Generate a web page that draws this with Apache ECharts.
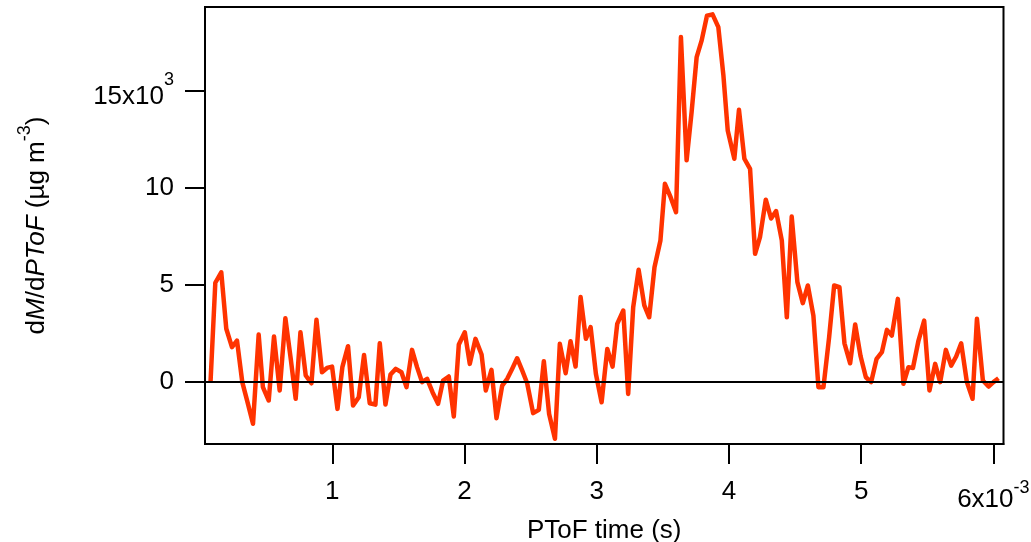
<!DOCTYPE html>
<html>
<head>
<meta charset="utf-8">
<script src="https://cdn.jsdelivr.net/npm/echarts@6/dist/echarts.min.js"></script>
<style>
html,body{margin:0;padding:0;background:#fff;}
#chart{width:1031px;height:542px;}
</style>
</head>
<body>
<div id="chart"></div>
<script>
// PToF time in units of 1e-3 s
const ptofTime = [
0.079,0.115,0.160,0.198,0.241,0.279,0.319,0.360,0.400,0.443,
0.475,0.519,0.559,0.602,0.645,0.685,0.723,0.759,0.799,0.842,
0.880,0.922,0.960,0.998,1.039,1.076,1.119,1.157,1.200,1.240,
1.283,1.326,1.359,1.402,1.440,1.480,1.523,1.561,1.603,1.641,
1.679,1.717,1.758,1.800,1.838,1.881,1.919,1.957,2.002,2.040,
2.083,2.129,2.161,2.204,2.242,2.285,2.323,2.360,2.398,2.436,
2.474,2.519,2.562,2.600,2.640,2.684,2.721,2.765,2.802,2.840,
2.878,2.918,2.954,2.994,3.037,3.080,3.120,3.155,3.201,3.238,
3.276,3.317,3.360,3.397,3.437,3.482,3.516,3.559,3.600,3.637,
3.680,3.718,3.756,3.794,3.834,3.876,3.920,3.958,3.991,4.041,
4.076,4.117,4.160,4.198,4.235,4.279,4.319,4.357,4.400,4.438,
4.475,4.518,4.559,4.597,4.639,4.677,4.715,4.758,4.796,4.836,
4.874,4.917,4.955,4.996,5.036,5.076,5.117,5.157,5.195,5.232,
5.278,5.320,5.358,5.392,5.434,5.477,5.517,5.560,5.598,5.641,
5.681,5.719,5.757,5.800,5.843,5.876,5.921,5.964,6.001,6.039
];
// dM/dPToF in ug m-3
const dMdPToF = [
0,5090,5630,2720,1770,2110,-30,-1100,-2180,2420,
-290,-980,2320,-460,3260,1200,-890,2540,310,-90,
3180,480,700,770,-1410,740,1820,-1240,-810,1370,
-1120,-1190,1970,-1190,360,650,480,-290,1630,740,
-30,140,-550,-1150,50,260,-1800,1910,2540,910,
2200,1390,-460,600,-1890,-210,140,650,1200,570,
-90,-1630,-1460,1050,-1670,-2950,1940,430,2080,770,
4350,2200,2800,390,-1070,1680,770,2970,3660,-640,
3830,5760,3920,3310,5890,7270,10190,9500,8730,17750,
11400,13900,16720,17580,18850,18920,18260,15800,12940,11480,
14000,11480,10960,6580,7440,9370,8400,8780,7270,3310,
8500,5120,4040,4950,3400,-290,-290,2280,4950,4860,
1970,940,2940,1300,220,-30,1170,1510,2660,2370,
4260,-120,740,700,2110,3140,-460,910,-30,1630,
820,1290,1970,-30,-890,3230,50,-260,-30,170
];
const xTicks = [1, 2, 3, 4, 5, 6];
const yTicks = [0, 5000, 10000, 15000];

const FONT = 'Liberation Sans, Arial, sans-serif';
const FS = 26;
const chart = echarts.init(document.getElementById('chart'));
const seriesData = ptofTime.map((t, i) => [t, dMdPToF[i]]);

chart.setOption({
  animation: false,
  backgroundColor: '#fff',
  grid: {left: 205, right: 27.5, top: 7, bottom: 98, show: true, borderColor: '#000', borderWidth: 2,
         containLabel: false, outerBoundsMode: 'none'},
  xAxis: {
    type: 'value', min: 0.037, max: 6.077,
    name: 'PToF time (s)', nameLocation: 'middle', nameGap: 64,
    nameTextStyle: {fontFamily: FONT, fontSize: FS, color: '#000'},
    axisLine: {show: true, onZero: false, lineStyle: {color: '#000', width: 2}},
    axisTick: {show: true, inside: false, length: 20, customValues: xTicks, lineStyle: {color: '#000', width: 2}},
    axisLabel: {
      customValues: xTicks, margin: 35, fontFamily: FONT, fontSize: FS, color: '#000',
      formatter: v => v === 6 ? '{b|6x10}{sup|-3}' : String(v),
      rich: {
        b: {fontFamily: FONT, fontSize: FS, color: '#000', lineHeight: 34, verticalAlign: 'bottom'},
        sup: {fontFamily: FONT, fontSize: 18, color: '#000', lineHeight: 26, verticalAlign: 'top'}
      }
    },
    splitLine: {show: false}
  },
  yAxis: {
    type: 'value', min: -3220, max: 19300,
    name: '{n|d}{i|M}{n|/d}{i|PToF}{n| (µg m}{sup|-3}{n|)}', nameLocation: 'middle', nameGap: 155,
    nameTextStyle: {
      fontFamily: FONT, fontSize: FS, color: '#000',
      rich: {
        n: {fontFamily: FONT, fontSize: FS, color: '#000', lineHeight: 34, verticalAlign: 'bottom'},
        i: {fontFamily: FONT, fontSize: FS, fontStyle: 'italic', color: '#000', lineHeight: 34, verticalAlign: 'bottom'},
        sup: {fontFamily: FONT, fontSize: 18, color: '#000', lineHeight: 18, verticalAlign: 'top'}
      }
    },
    axisLine: {show: true, onZero: false, lineStyle: {color: '#000', width: 2}},
    axisTick: {show: true, inside: false, length: 20, customValues: yTicks, lineStyle: {color: '#000', width: 2}},
    axisLabel: {
      customValues: yTicks, margin: 31, fontFamily: FONT, fontSize: FS, color: '#000',
      formatter: v => v === 15000 ? '{b|15x10}{sup|3}' : String(v / 1000),
      rich: {
        b: {fontFamily: FONT, fontSize: FS, color: '#000', lineHeight: 38, verticalAlign: 'bottom'},
        sup: {fontFamily: FONT, fontSize: 18, color: '#000', lineHeight: 30, verticalAlign: 'top'}
      }
    },
    splitLine: {show: false}
  },
  series: [
    {
      type: 'line', data: [], z: 1, silent: true,
      markLine: {
        silent: true, symbol: 'none', animation: false, label: {show: false},
        lineStyle: {color: '#000', width: 2, type: 'solid'},
        data: [{yAxis: 0}]
      }
    },
    {
      type: 'line', data: seriesData, z: 3, showSymbol: false, symbol: 'none',
      lineStyle: {color: '#ff3300', width: 4.5, join: 'round'},
      itemStyle: {color: '#ff3300'}
    }
  ]
});
</script>
</body>
</html>
